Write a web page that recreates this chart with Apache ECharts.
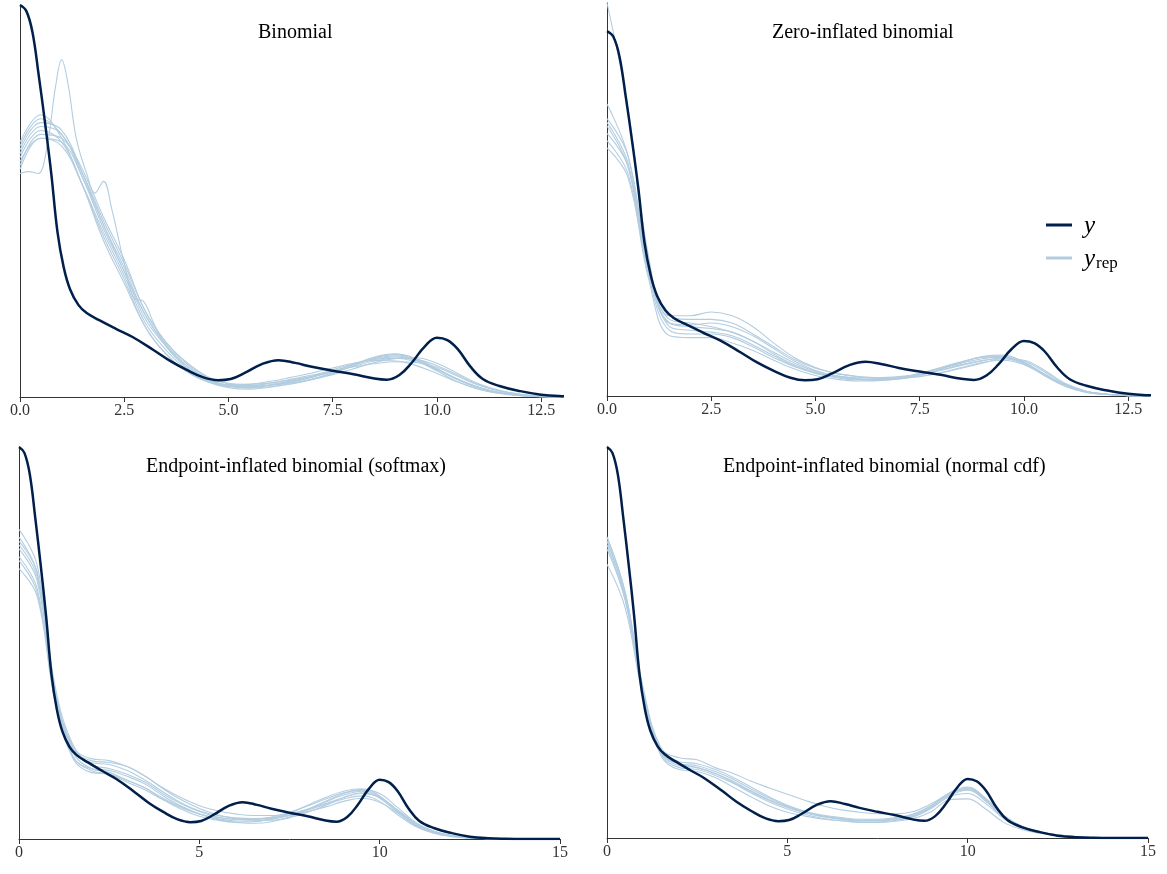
<!DOCTYPE html>
<html>
<head>
<meta charset="utf-8">
<script src="https://cdn.jsdelivr.net/npm/echarts@6/dist/echarts.min.js"></script>
<style>
html,body{margin:0;padding:0;background:#fff;}
#chart{width:1167px;height:874px;}
</style>
</head>
<body>
<div id="chart"></div>
<script>
// ---------- DATA ----------
const panelTitles = ["Binomial", "Zero-inflated binomial", "Endpoint-inflated binomial (softmax)", "Endpoint-inflated binomial (normal cdf)"];
const topTicks = [0, 2.5, 5, 7.5, 10, 12.5];
const bottomTicks = [0, 5, 10, 15];

// observed y density (same in all panels)
const yObsX = [0, 0.15, 0.3, 0.45, 0.6, 0.75, 0.9, 1.05, 1.2, 1.4, 1.6, 1.9, 2.3, 2.7, 3.2, 3.6, 4.0, 4.4, 4.75, 5.05, 5.4, 5.8, 6.2, 6.6, 7.0, 7.5, 8.0, 8.5, 8.8, 9.1, 9.4, 9.7, 10.0, 10.25, 10.5, 10.8, 11.1, 11.5, 12.0, 12.5, 13.0, 13.5, 14, 15];
const yObs  = [100, 98.5, 93, 82, 70, 57, 42, 33, 27.5, 23.5, 21.4, 19.6, 17.4, 15.3, 12, 9.2, 6.9, 5.0, 4.3, 4.6, 6.2, 8.4, 9.4, 8.7, 7.7, 6.7, 5.8, 4.7, 4.4, 5.6, 8.8, 12.8, 15.1, 14.5, 12.2, 7.8, 4.6, 2.8, 1.5, 0.6, 0.2, 0.05, 0, 0];

// x grids for replicated densities
const xTop = [0,0.5,1,1.5,2,2.5,3,3.5,4,4.5,5,5.5,6,6.5,7,7.5,8,8.5,9,9.5,10,10.5,11,11.5,12,12.5,13];
const xBottom = [0,0.5,1,1.5,2,2.5,3,3.5,4,4.5,5,5.5,6,6.5,7,7.5,8,8.5,9,9.5,10,10.5,11,11.5,12,12.5,13,13.5,14,14.5,15];

// Panel 1: Binomial
const rep1 = [
  [62, 69, 67, 56, 43, 32, 20, 13, 8, 4.5, 3.0, 2.6, 3.2, 4.1, 5.2, 6.6, 8.2, 9.6, 10.2, 9.3, 7.0, 4.5, 2.5, 1.2, 0.5, 0.2, 0],
  [65, 72, 66, 54, 40, 29, 18, 11, 6.5, 3.8, 2.4, 2.0, 2.5, 3.4, 4.6, 6.2, 8.3, 10.2, 11.0, 9.8, 7.2, 4.4, 2.3, 1.0, 0.4, 0.1, 0],
  [59, 67, 66, 57, 45, 34, 22, 14, 8.5, 5, 3.5, 3.2, 3.6, 4.3, 5.2, 6.4, 7.8, 9.2, 9.9, 9.6, 8.0, 5.6, 3.2, 1.6, 0.7, 0.2, 0],
  [63, 70, 68, 57, 44, 33, 21, 13.5, 8, 4.6, 2.8, 2.3, 2.6, 3.3, 4.4, 6.0, 8.0, 10.0, 10.8, 9.4, 6.6, 3.9, 2.0, 0.9, 0.3, 0.1, 0],
  [60, 66, 64, 54, 42, 31, 19, 12, 7, 4.2, 3.2, 3.3, 4.0, 5.0, 6.1, 7.4, 8.6, 9.3, 9.2, 8.0, 6.0, 3.8, 2.0, 1.0, 0.4, 0.1, 0],
  [64, 71, 67, 58, 46, 35, 22, 14, 8.8, 5.2, 3.4, 2.8, 3.0, 3.6, 4.5, 5.7, 7.2, 8.8, 9.8, 10.0, 8.6, 6.0, 3.4, 1.7, 0.7, 0.2, 0],
  [61, 68, 65, 54, 41, 30, 18, 11, 6.5, 4.0, 2.6, 2.4, 3.0, 4.0, 5.3, 6.9, 8.5, 9.6, 9.9, 9.0, 6.9, 4.5, 2.4, 1.1, 0.4, 0.1, 0],
  [58, 66, 65, 56, 44, 32, 21, 13, 7.5, 4.4, 3.0, 2.9, 3.5, 4.5, 5.6, 6.7, 7.7, 8.5, 9.0, 8.8, 7.6, 5.3, 3.0, 1.5, 0.6, 0.2, 0]
];
const rep1SpikeX = [0, 0.2, 0.43, 0.65, 0.85, 1.0, 1.15, 1.35, 1.6, 1.8, 2.0, 2.2, 2.5, 2.75, 2.95, 3.2, 3.5, 4, 4.5, 5, 5.5, 6, 6.5, 7, 7.5, 8, 8.5, 9, 9.5, 10, 10.5, 11, 11.5, 12, 12.5, 13];
const rep1Spike  = [57, 57.5, 57, 64, 79, 86, 80, 66, 57, 52, 55, 48, 34, 25, 24.5, 19, 13, 7.5, 4.2, 2.8, 2.6, 3.0, 3.8, 5.0, 6.5, 8.2, 9.8, 10.5, 9.6, 7.2, 4.6, 2.5, 1.1, 0.4, 0.1, 0];

// Panel 2: Zero-inflated binomial
const rep2 = [
  [74, 63, 34, 21, 20, 19, 17.5, 15, 11.5, 8.5, 6.5, 5.2, 4.6, 4.5, 5.0, 6.2, 7.6, 9.0, 10.2, 10.6, 9.2, 6.0, 3.0, 1.2, 0.5, 0.1, 0],
  [76, 66, 36, 22, 22, 23, 22, 19, 14.5, 10.5, 7.8, 6.2, 5.3, 4.8, 4.8, 5.3, 6.3, 7.6, 9.0, 10.2, 9.8, 7.0, 3.4, 1.3, 0.5, 0.1, 0],
  [70, 61, 33, 18, 17, 17, 16, 13.5, 10.5, 8.0, 6.3, 5.4, 5.0, 5.0, 5.3, 6.0, 7.2, 8.6, 9.8, 10.2, 8.8, 5.8, 2.9, 1.1, 0.4, 0.1, 0],
  [80, 66, 35, 20, 19.5, 20, 19, 16.5, 13, 9.5, 7.0, 5.5, 4.6, 4.3, 4.6, 5.6, 7.3, 9.2, 10.8, 11.2, 9.3, 5.8, 2.7, 1.0, 0.4, 0.1, 0],
  [68, 60, 32, 16.5, 16, 16, 14.5, 12.5, 9.8, 7.4, 5.6, 4.6, 4.1, 4.2, 4.8, 6.0, 7.6, 9.3, 10.6, 10.8, 8.8, 5.5, 2.6, 1.0, 0.4, 0.1, 0],
  [72, 63, 35, 22, 21, 21, 20, 17, 13.5, 10, 7.6, 6.2, 5.4, 5.0, 5.0, 5.4, 6.4, 7.8, 9.2, 9.8, 8.6, 5.8, 3.0, 1.2, 0.5, 0.1, 0],
  [75, 64, 34, 20, 19, 18.5, 17.5, 15, 12, 9, 6.8, 5.6, 4.8, 4.6, 4.9, 5.8, 7.0, 8.4, 9.6, 10.4, 9.6, 6.6, 3.2, 1.2, 0.5, 0.1, 0],
  [107.7, 79, 38, 19, 18, 17.5, 16.5, 14, 11, 8.2, 6.2, 5.0, 4.4, 4.4, 5.0, 6.2, 7.8, 9.4, 10.6, 10.8, 9.0, 5.8, 2.8, 1.1, 0.4, 0.1, 0]
];

// Panel 3: Endpoint-inflated binomial (softmax)
const rep3 = [
  [79, 70, 39, 24, 19, 18, 16.5, 14.5, 11.5, 9, 7, 5.6, 5, 5, 5.6, 6.8, 8.4, 10.2, 11.8, 12.4, 10.8, 7.2, 3.8, 1.9, 0.9, 0.4, 0.1, 0, 0, 0, 0],
  [77, 68, 38, 23, 20, 19.5, 18.5, 16, 13, 10.5, 8.5, 7.2, 6.4, 6.0, 6.0, 6.5, 7.6, 9.0, 10.6, 11.6, 10.6, 7.4, 4.0, 2.0, 0.9, 0.3, 0.1, 0, 0, 0, 0],
  [74, 66, 37, 22, 18, 17, 15, 13, 10, 7.6, 5.8, 4.8, 4.3, 4.4, 5.2, 6.6, 8.6, 10.6, 12.2, 12.8, 11.0, 7.0, 3.4, 1.6, 0.7, 0.3, 0.1, 0, 0, 0, 0],
  [72, 64, 36, 21, 17.5, 16.5, 14.5, 12.5, 10, 8, 6.4, 5.5, 5.0, 5.0, 5.4, 6.2, 7.4, 8.8, 10.2, 11.0, 9.6, 6.2, 3.2, 1.6, 0.7, 0.3, 0.1, 0, 0, 0, 0],
  [71, 63, 35.5, 21, 18, 17.5, 16, 14, 11, 8.4, 6.4, 5.2, 4.6, 4.6, 5.0, 6.0, 7.6, 9.6, 11.6, 12.6, 11.6, 8.0, 4.2, 2.0, 0.9, 0.3, 0.1, 0, 0, 0, 0],
  [75, 67, 37, 22.5, 19.5, 19, 17.5, 15, 12, 9.2, 7.2, 6, 5.4, 5.2, 5.4, 6.0, 7.0, 8.2, 9.6, 10.4, 9.4, 6.6, 3.6, 1.8, 0.8, 0.3, 0.1, 0, 0, 0, 0],
  [69, 62, 35, 20.5, 17, 16.5, 15, 13, 10.4, 8.2, 6.4, 5.0, 4.2, 4.0, 4.4, 5.6, 7.4, 9.4, 11.2, 12.2, 10.4, 6.8, 3.4, 1.5, 0.6, 0.2, 0.1, 0, 0, 0, 0],
  [76, 68, 38, 23.5, 20.5, 20, 18.5, 16, 12.8, 10, 7.8, 6.2, 5.2, 4.8, 4.8, 5.4, 6.8, 8.6, 10.6, 11.8, 10.6, 7.2, 3.8, 1.8, 0.8, 0.3, 0.1, 0, 0, 0, 0]
];

// Panel 4: Endpoint-inflated binomial (normal cdf)
const rep4 = [
  [77, 63, 38, 22.5, 19.5, 19, 17.5, 15.5, 13, 10.5, 8.4, 6.8, 5.6, 4.8, 4.4, 4.4, 4.8, 5.8, 8.0, 11.2, 12.4, 9.6, 5.4, 2.8, 1.5, 0.8, 0.3, 0.1, 0, 0, 0],
  [76, 62, 37.5, 22, 19, 18.5, 17, 15, 12.5, 10.2, 8.2, 6.8, 5.8, 5.2, 4.8, 4.8, 5.2, 6.2, 8.4, 11.6, 13.0, 10.2, 5.8, 3.0, 1.6, 0.8, 0.3, 0.1, 0, 0, 0],
  [75, 61, 37, 21.5, 18, 17.5, 16, 14, 11.5, 9.2, 7.4, 6.0, 5.0, 4.4, 4.1, 4.1, 4.5, 5.4, 7.6, 10.8, 12.2, 9.4, 5.2, 2.6, 1.4, 0.7, 0.3, 0.1, 0, 0, 0],
  [77, 63, 38.5, 23, 20.5, 20, 18, 16.5, 14.5, 12.8, 11.2, 9.6, 8.2, 7.2, 6.6, 6.2, 6.2, 6.8, 8.8, 11.4, 12.6, 9.8, 5.6, 2.9, 1.5, 0.8, 0.3, 0.1, 0, 0, 0],
  [70, 59, 36, 21, 17.5, 17, 15.5, 13, 10.5, 8.2, 6.6, 5.6, 4.8, 4.4, 4.0, 4.0, 4.3, 5.0, 6.8, 9.8, 10.0, 7.4, 4.0, 2.2, 1.2, 0.6, 0.3, 0.1, 0, 0, 0],
  [76, 62, 37.5, 22, 19, 18, 16.5, 14.5, 12, 9.8, 8.0, 6.6, 5.6, 5.0, 4.6, 4.6, 5.0, 6.0, 8.2, 11.2, 12.8, 10.0, 5.8, 3.0, 1.6, 0.8, 0.3, 0.1, 0, 0, 0],
  [74, 61, 37, 22, 18.5, 18, 16.5, 14.2, 11.8, 9.6, 7.8, 6.4, 5.4, 4.8, 4.4, 4.4, 4.8, 5.6, 7.8, 10.6, 11.4, 8.8, 5.0, 2.6, 1.4, 0.7, 0.3, 0.1, 0, 0, 0]
];

const yMax = [100, 107.7, 100, 100];
const xMax = [13, 13, 15, 15];

// ---------- STYLE ----------
const DARK = '#011f4b';
const LIGHT = '#b3cde0';
const SERIF = '"Liberation Serif", "Times New Roman", serif';
const AXIS = '#333333';

const grids = [
  {left: 20, top: 5, width: 542, height: 392},
  {left: 607, top: 3, width: 542, height: 393},
  {left: 19, top: 447, width: 541, height: 392},
  {left: 607, top: 447, width: 541, height: 391}
];

const xAxes = grids.map((g, i) => {
  const top = i < 2;
  const ticks = top ? topTicks : bottomTicks;
  return {
    type: 'value', gridIndex: i, min: 0, max: xMax[i], interval: top ? 2.5 : 5,
    axisLine: {show: true, onZero: false, lineStyle: {color: AXIS, width: 1}},
    axisTick: {show: true, length: 5, customValues: ticks, lineStyle: {color: AXIS}},
    axisLabel: {
      customValues: ticks, margin: 6, color: '#333', fontFamily: SERIF, fontSize: 16,
      formatter: v => top ? Number(v).toFixed(1) : String(v)
    },
    splitLine: {show: false}
  };
});

const yAxes = grids.map((g, i) => ({
  type: 'value', gridIndex: i, min: 0, max: yMax[i],
  axisLine: {show: true, onZero: false, lineStyle: {color: AXIS, width: 1}},
  axisTick: {show: false}, axisLabel: {show: false}, splitLine: {show: false}
}));

function pairs(xs, ys) { return xs.map((x, k) => [x, ys[k]]); }

function repLine(idx, xs, ys) {
  return {
    type: 'line', name: 'yrep', xAxisIndex: idx, yAxisIndex: idx,
    data: pairs(xs, ys), smooth: 0.4, symbol: 'none', showSymbol: false,
    lineStyle: {color: LIGHT, width: 1.1}, itemStyle: {color: LIGHT},
    z: 2, silent: true, animation: false
  };
}
function obsLine(idx) {
  return {
    type: 'line', name: 'y', xAxisIndex: idx, yAxisIndex: idx,
    data: pairs(yObsX, yObs), smooth: 0.4, symbol: 'none', showSymbol: false,
    lineStyle: {color: DARK, width: 2.5}, itemStyle: {color: DARK},
    z: 3, silent: true, animation: false
  };
}

const series = [];
rep1.forEach(r => series.push(repLine(0, xTop, r)));
series.push(repLine(0, rep1SpikeX, rep1Spike));
rep2.forEach(r => series.push(repLine(1, xTop, r)));
rep3.forEach(r => series.push(repLine(2, xBottom, r)));
rep4.forEach(r => series.push(repLine(3, xBottom, r)));
for (let i = 0; i < 4; i++) series.push(obsLine(i));

const titlePos = [[258, 33], [772, 33], [146, 467], [723, 467]];
const graphics = panelTitles.map((t, i) => ({
  type: 'text', x: titlePos[i][0], y: titlePos[i][1], silent: true,
  style: {text: t, fill: '#000', fontFamily: SERIF, fontSize: 20, align: 'left', verticalAlign: 'middle'}
}));

const legendRich = {
  i: {fontFamily: SERIF, fontStyle: 'italic', fontSize: 25, color: '#000', padding: [0, 0, 0, 7], verticalAlign: 'bottom', lineHeight: 28},
  s: {fontFamily: SERIF, fontSize: 17, color: '#000', verticalAlign: 'bottom', lineHeight: 28, padding: [0, 0, 0, 1]}
};
const legendBase = {
  orient: 'vertical', icon: 'rect', itemWidth: 26, itemHeight: 3, selectedMode: false,
  padding: 0, textStyle: {rich: legendRich}
};

const option = {
  backgroundColor: '#ffffff',
  animation: false,
  grid: grids,
  xAxis: xAxes,
  yAxis: yAxes,
  legend: [
    Object.assign({}, legendBase, {data: ['y'], left: 1046, top: 214, formatter: () => '{i|y}'}),
    Object.assign({}, legendBase, {data: ['yrep'], left: 1046, top: 247, formatter: () => '{i|y}{s|rep}'})
  ],
  graphic: graphics,
  series: series
};

const chart = echarts.init(document.getElementById('chart'), null, {renderer: 'canvas'});
chart.setOption(option);
</script>
</body>
</html>
